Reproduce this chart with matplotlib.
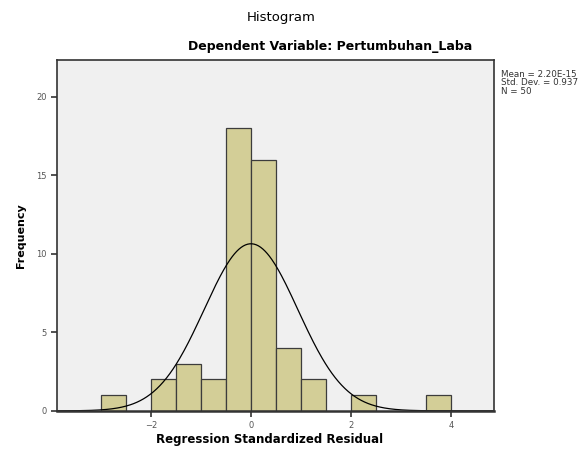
import numpy as np
import matplotlib
matplotlib.use("Agg")
import matplotlib.pyplot as plt

bin_left = [-3.0, -2.0, -1.5, -1.0, -0.5, 0.0, 0.5, 1.0, 2.0, 3.5]
counts = [1, 2, 3, 2, 18, 16, 4, 2, 1, 1]
bin_width = 0.5

mean_val = 2.20e-15
std_dev = 0.937
n_obs = 50

x_ticks = [-2, 0, 2, 4]
y_ticks = [0, 5, 10, 15, 20]

fig = plt.figure(figsize=(5.88, 4.5), dpi=100)
ax = fig.add_axes([0.097, 0.087, 0.743, 0.78])
ax.set_facecolor("#f0f0f0")

ax.bar(bin_left, counts, width=bin_width, align="edge",
       color="#d3ce97", edgecolor="#3c3c3c", linewidth=0.9)

# normal curve scaled to the histogram
xs = np.linspace(-3.88, 4.86, 400)
pdf = np.exp(-0.5 * ((xs - mean_val) / std_dev) ** 2) / (std_dev * np.sqrt(2 * np.pi))
ax.plot(xs, n_obs * bin_width * pdf, color="black", linewidth=0.9)

ax.set_xlim(-3.88, 4.86)
ax.set_ylim(0, 22.36)
ax.set_xticks(x_ticks)
ax.set_yticks(y_ticks)
ax.tick_params(labelsize=6, labelcolor="#555555", length=4, width=1.2, color="#333333")
for s in ax.spines.values():
    s.set_color("#333333")
    s.set_linewidth(1.2)
ax.spines["bottom"].set_linewidth(1.8)

ax.set_xlabel("Regression Standardized Residual", fontsize=8.5, fontweight="bold")
ax.xaxis.set_label_coords(0.487, -0.063)
ax.set_ylabel("Frequency", fontsize=8, fontweight="bold")
ax.yaxis.set_label_coords(-0.072, 0.5)

fig.text(0.478, 0.96, "Histogram", ha="center", va="center", fontsize=9.5)
fig.text(0.561, 0.896, "Dependent Variable: Pertumbuhan_Laba", ha="center", va="center",
         fontsize=9, fontweight="bold")

fig.text(0.852, 0.845,
         "Mean = %.2E\nStd. Dev. = %.3f\nN = %d" % (mean_val, std_dev, n_obs),
         ha="left", va="top", fontsize=6.3, color="#333333", linespacing=0.95)

fig.savefig("out.png", dpi=100)
